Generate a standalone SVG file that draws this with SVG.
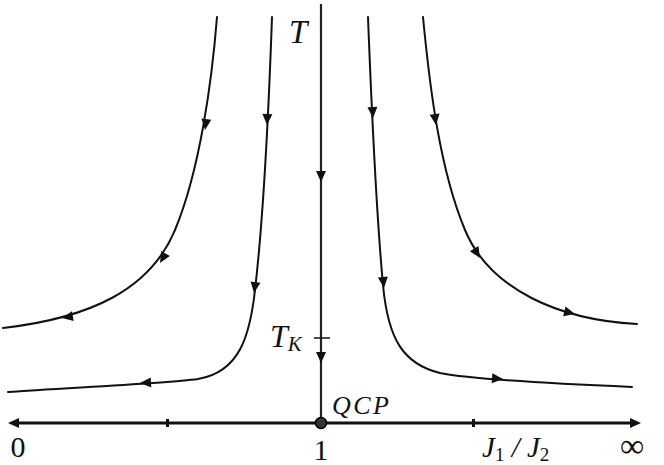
<svg xmlns="http://www.w3.org/2000/svg" width="664" height="465" viewBox="0 0 664 465">
<style>
.flow{fill:none;stroke:#111;stroke-width:2;stroke-linecap:round}
.axis{fill:none;stroke:#111;stroke-width:3}
.vaxis{fill:none;stroke:#222;stroke-width:2.2}
.lbl{font-family:"Liberation Serif","DejaVu Serif",serif;fill:#111}
.it{font-style:italic}
</style>
<defs>
<path id="ah" d="M0,0 L-11,-5 L-11,5 Z" fill="#111"/>
</defs>
<g id="connectors">
<path class="flow" d="M217,17 C212,80 200,170 175,230 C150,290 90,318 3,328"/>
<path class="flow" d="M272,17 C268,130 262,230 255,290 C250,335 240,372 198,379 C160,384 60,388 8,392"/>
<path class="flow" d="M368,17 C372,120 377,220 383,285 C388,339 403,364 440,373 C475,380 560,384 632,387"/>
<path class="flow" d="M423,17 C430,90 440,170 465,230 C490,290 560,320 637,324"/>
<use href="#ah" transform="translate(205,130) rotate(97)"/>
<use href="#ah" transform="translate(160,263) rotate(120)"/>
<use href="#ah" transform="translate(62,318) rotate(170)"/>
<use href="#ah" transform="translate(267,125) rotate(92)"/>
<use href="#ah" transform="translate(254,293) rotate(98)"/>
<use href="#ah" transform="translate(140,383) rotate(177)"/>
<use href="#ah" transform="translate(373,118) rotate(87)"/>
<use href="#ah" transform="translate(384,288) rotate(84)"/>
<use href="#ah" transform="translate(503,379) rotate(4)"/>
<use href="#ah" transform="translate(436,125) rotate(83)"/>
<use href="#ah" transform="translate(480,258) rotate(58)"/>
<use href="#ah" transform="translate(575,314) rotate(14)"/>
</g>
<g id="T-axis">
<line class="vaxis" x1="321" y1="4" x2="321" y2="423"/>
<use href="#ah" transform="translate(321,182) rotate(90)"/>
<use href="#ah" transform="translate(321,363) rotate(90)"/>
<line x1="314" y1="338" x2="330" y2="338" stroke="#111" stroke-width="1.5"/>
<text class="lbl it" x="289" y="43" font-size="33">T</text>
<text class="lbl it" x="270" y="347" font-size="32">T<tspan font-size="21" dy="4">K</tspan></text>
</g>
<g id="J-axis">
<line class="axis" x1="14" y1="423" x2="632" y2="423"/>
<use href="#ah" transform="translate(8,423) rotate(180)"/>
<use href="#ah" transform="translate(641,423)"/>
<rect x="166" y="419" width="3" height="8" fill="#111"/>
<rect x="472" y="419" width="3" height="8" fill="#111"/>
<text class="lbl" x="18" y="457" font-size="30" text-anchor="middle">0</text>
<text class="lbl" x="321" y="460" font-size="30" text-anchor="middle">1</text>
<text class="lbl it" x="482" y="457" font-size="29">J<tspan font-size="19" dy="4" font-style="normal">1</tspan><tspan dy="-4"> / </tspan>J<tspan font-size="19" dy="4" font-style="normal">2</tspan></text>
<text class="lbl" x="632" y="457" font-size="34" text-anchor="middle">∞</text>
</g>
<g id="QCP">
<circle cx="321" cy="423" r="5.5" fill="#333" stroke="#000" stroke-width="1.5"/>
<text class="lbl it" x="332" y="414" font-size="26" textLength="57" lengthAdjust="spacing">QCP</text>
</g>
</svg>
